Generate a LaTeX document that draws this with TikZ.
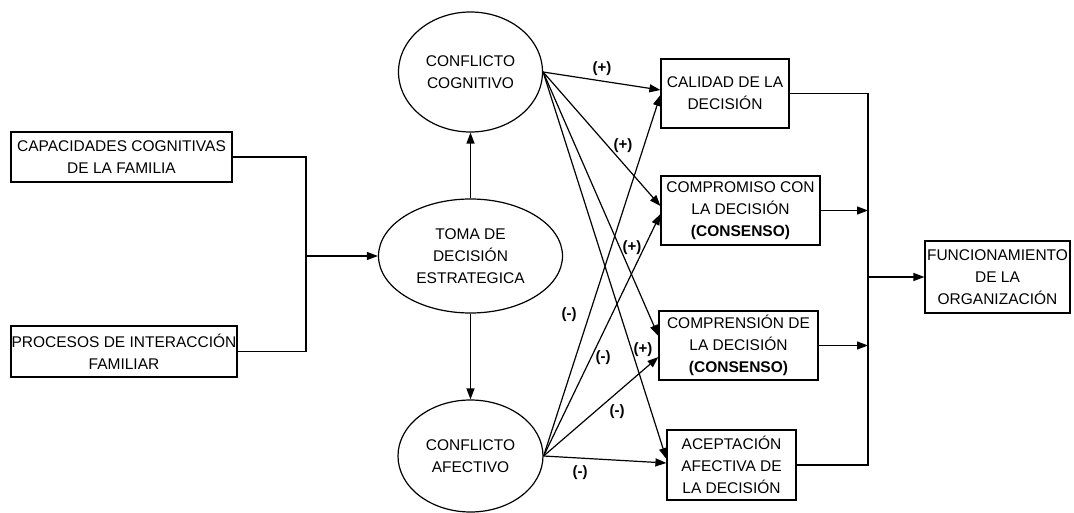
\documentclass[tikz,border=0pt]{standalone}
\usepackage{fontspec}
\setmainfont{Liberation Sans}
\usetikzlibrary{shapes.geometric}
\usetikzlibrary{arrows.meta}

\begin{document}
\begin{tikzpicture}[x=1pt, y=-1pt, line width=1.2pt,
	caja/.style={draw, rectangle, align=center, inner sep=0pt, font=\fontsize{15.5}{22}\selectfont},
	elipse/.style={draw, ellipse, align=center, inner sep=0pt, font=\fontsize{15.5}{22}\selectfont},
	signo/.style={inner sep=1pt, font=\fontsize{15}{16}\selectfont\bfseries},
	flecha/.style={-{Triangle[length=11pt, width=8pt]}}]
	\useasboundingbox (0,0) rectangle (1074,513);

	%Nodos aqui
	\node[caja, minimum width=221pt, minimum height=50pt] (cap) at (121.5,157) {CAPACIDADES COGNITIVAS\\DE LA FAMILIA};
	\node[caja, minimum width=226pt, minimum height=51pt] (pro) at (124,351.5) {PROCESOS DE INTERACCIÓN\\FAMILIAR};
	\node[elipse, minimum width=184pt, minimum height=114pt] (toma) at (470.5,256) {TOMA DE\\DECISIÓN\\ESTRATEGICA};
	\node[elipse, minimum width=144pt, minimum height=120pt] (cog) at (470.5,72) {CONFLICTO\\COGNITIVO};
	\node[elipse, minimum width=145pt, minimum height=112pt] (afe) at (470.5,456) {CONFLICTO\\AFECTIVO};
	\node[caja, minimum width=128pt, minimum height=69pt] (cal) at (725,93.5) {CALIDAD DE LA\\DECISIÓN};
	\node[caja, minimum width=159pt, minimum height=69pt] (com) at (740.5,210.5) {COMPROMISO CON\\LA DECISIÓN\\\textbf{(CONSENSO)}};
	\node[caja, minimum width=159pt, minimum height=69pt] (cmp) at (738.5,345.5) {COMPRENSIÓN DE\\LA DECISIÓN\\\textbf{(CONSENSO)}};
	\node[caja, minimum width=129pt, minimum height=70pt] (ace) at (731.5,465) {ACEPTACIÓN\\AFECTIVA DE\\LA DECISIÓN};
	\node[caja, minimum width=145pt, minimum height=72pt] (fun) at (997.5,277) {FUNCIONAMIENTO\\DE LA\\ORGANIZACIÓN};
	\coordinate (union) at (306,256);
	\coordinate (colector) at (868,277);

	%Conexiones aqui
	\draw (cap.east) -| (union);
	\draw (pro.east) -| (union);
	\draw[flecha] (union) -- (toma.west);
	\draw[flecha] (toma.north) -- (cog.south);
	\draw[flecha] (toma.south) -- (afe.north);

	\draw[flecha] (cog.east) -- ([yshift=3.5pt]cal.west);
	\draw[flecha] (cog.east) -- ([yshift=4.5pt]com.west);
	\draw[flecha] (cog.east) -- ([yshift=9.5pt]cmp.west);
	\draw[flecha] (cog.east) -- ([yshift=6pt]ace.west);
	\draw[flecha] (afe.east) -- ([yshift=-1.5pt]cal.west);
	\draw[flecha] (afe.east) -- ([yshift=-3.5pt]com.west);
	\draw[flecha] (afe.east) -- ([yshift=-11.5pt]cmp.west);
	\draw[flecha] (afe.east) -- ([yshift=2pt]ace.west);

	\draw (cal.east) -| (colector);
	\draw (ace.east) -| (colector);
	\draw[flecha] (com.east) -- (com.east -| colector);
	\draw[flecha] (cmp.east) -- (cmp.east -| colector);
	\draw[flecha] (colector) -- (fun.west);

	%Signos aqui
	\node[signo] (s1) at (602,69) {(+)};
	\node[signo] (s2) at (623,146) {(+)};
	\node[signo] (s3) at (632,248) {(+)};
	\node[signo] (s4) at (643,350) {(+)};
	\node[signo] (s5) at (569,315) {(-)};
	\node[signo] (s6) at (603,358) {(-)};
	\node[signo] (s7) at (617,412) {(-)};
	\node[signo] (s8) at (580,473) {(-)};
\end{tikzpicture}
\end{document}
